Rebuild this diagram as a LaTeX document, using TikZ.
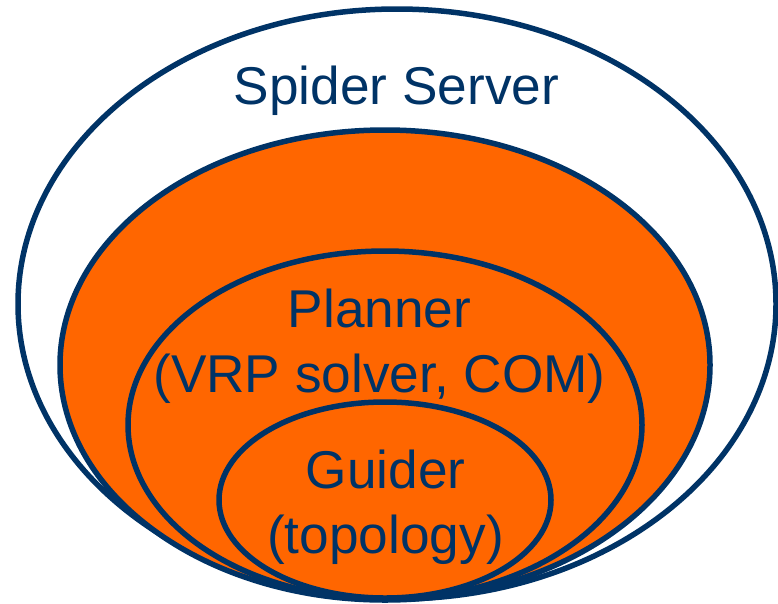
\documentclass[tikz,border=0pt]{standalone}
\usepackage{fontspec}
\setmainfont{Liberation Sans}
\definecolor{navy}{HTML}{003366}
\definecolor{fillorange}{HTML}{FF6600}
\tikzset{ring/.style={draw=navy,line width=5.5pt},label/.style={text=navy,font=\fontsize{53.2}{65}\selectfont,align=center,inner sep=0pt}}
\begin{document}
\begin{tikzpicture}[x=1pt,y=-1pt,yscale=1]
\useasboundingbox (0,0) rectangle (778,603);
\fill[white] (0,0) rectangle (778,603);
\path[ring] (397,304) ellipse [x radius=379,y radius=295];
\path[ring,fill=fillorange] (385,365) ellipse [x radius=325,y radius=235];
\path[ring,fill=fillorange] (385,425) ellipse [x radius=257,y radius=174];
\path[ring,fill=fillorange] (385,500) ellipse [x radius=166,y radius=98];
\node[label] (server) at (396.5,91) {Spider Server};
\node[label] (planner) at (379.5,346) {Planner\\(VRP solver, COM)};
\node[label] (guider) at (385.5,507) {Guider\\(topology)};
\end{tikzpicture}
\end{document}
